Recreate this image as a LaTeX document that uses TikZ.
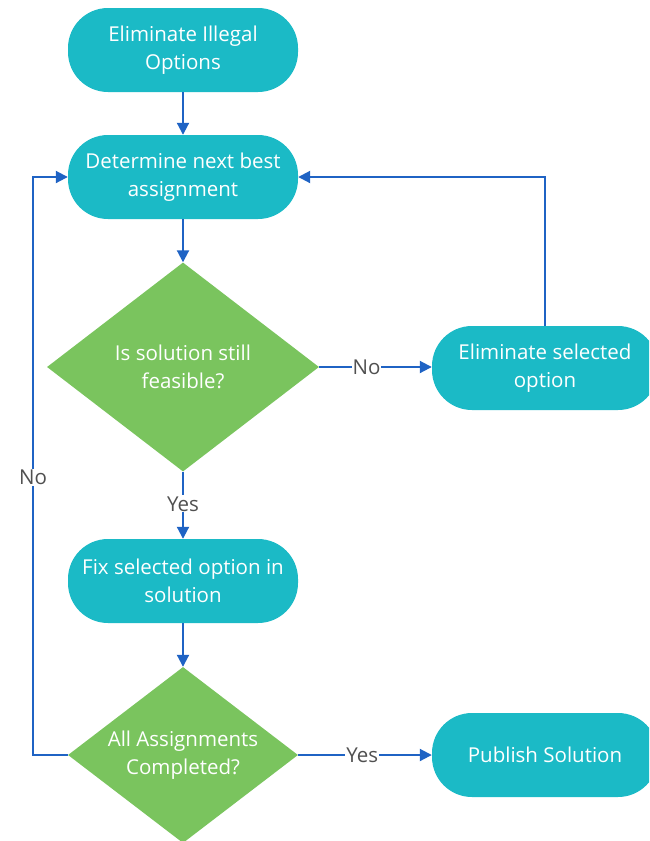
\documentclass[tikz,border=0pt]{standalone}
\usepackage{fontspec}
\setmainfont{Open Sans}
\usetikzlibrary{shapes.geometric,arrows.meta}
\definecolor{teal1}{RGB}{27,186,198}
\definecolor{green1}{RGB}{122,196,94}
\definecolor{blue1}{RGB}{31,99,196}
\definecolor{gray1}{RGB}{80,80,80}
\tikzset{
  term/.style={fill=teal1, rounded corners=40pt, minimum width=230pt, minimum height=84pt, text=white, align=center, font=\fontsize{20.5}{28}\selectfont, inner sep=0pt},
  decide/.style={diamond, fill=green1, inner sep=0pt},
  dtext/.style={text=white, align=center, font=\fontsize{20.5}{28}\selectfont, inner sep=0pt},
  conn/.style={draw=blue1, line width=2pt, -{Triangle[length=12pt,width=12pt]}},
  lbl/.style={fill=white, text=gray1, font=\fontsize{20.5}{22}\selectfont, inner sep=1pt}
}
\begin{document}
\begin{tikzpicture}[x=1pt,y=-1pt]
\useasboundingbox (0,0) rectangle (649,841);
\clip (0,0) rectangle (649,841);
\node[term] (n1) at (183,50) {Eliminate Illegal\\Options};
\node[term] (n2) at (183,177) {Determine next best\\assignment};
\node[decide, minimum width=272pt, minimum height=209pt, label={[dtext]center:Is solution still\\feasible?}] (d1) at (183,367) {};
\node[term, minimum width=226pt] (n4) at (545,368) {Eliminate selected\\option};
\node[term] (n3) at (183,581) {Fix selected option in\\solution};
\node[decide, minimum width=230pt, minimum height=176pt, label={[dtext]center:All Assignments\\Completed?}] (d2) at (183,755) {};
\node[term, minimum width=226pt] (n5) at (545,755) {Publish Solution};
\coordinate (c1) at (33,755);
\coordinate (c2) at (33,177);
\coordinate (c3) at (n4.north |- n2.east);
\draw[conn] (n1) -- (n2);
\draw[conn] (n2) -- (d1);
\draw[conn] (d1.south) -- node[lbl, pos=0.48]{Yes} (n3.north);
\draw[conn] (n3) -- (d2);
\draw[conn] (d1.east) -- node[lbl, pos=0.42]{No} (n4.west |- d1.east);
\draw[conn] (n4.north) -- (c3) -- (n2.east);
\draw[conn] (d2.east) -- node[lbl, pos=0.48]{Yes} (n5.west);
\draw[conn] (d2.west) -- (c1) -- node[lbl, pos=0.48]{No} (c2) -- (n2.west);
\end{tikzpicture}
\end{document}
